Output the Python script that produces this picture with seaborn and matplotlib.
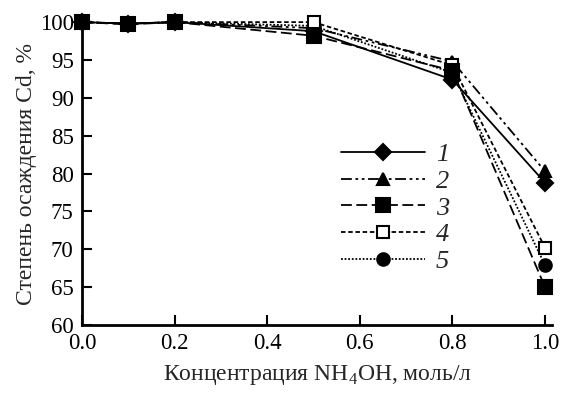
import matplotlib
matplotlib.use("Agg")
import matplotlib.pyplot as plt
import pandas as pd
import seaborn as sns

# concentration NH4OH, mol/l
conc = [0.0, 0.1, 0.2, 0.5, 0.8, 1.0]
# degree of Cd precipitation, %
s1 = [100, 99.8, 100, 98.8, 92.4, 78.8]
s2 = [100, 99.8, 100, 99.2, 94.8, 80.3]
s3 = [100, 99.7, 100, 98.2, 93.6, 65.0]
s4 = [100, 99.8, 100, 100.0, 94.3, 70.2]
s5 = [100, 99.8, 100, 99.5, 93.3, 67.9]
labels = ["1", "2", "3", "4", "5"]

sns.set_style("ticks")
plt.rcParams['font.family'] = ['Liberation Serif', 'DejaVu Serif']
plt.rcParams['mathtext.fontset'] = 'custom'
plt.rcParams['mathtext.rm'] = 'Liberation Serif'

fig = plt.figure(figsize=(5.67, 3.95), dpi=100)
ax = fig.add_axes([0.1446, 0.177, 0.829, 0.767])

styles = [
    dict(linestyle='-', marker='D', mfc='black', ms=8, zorder=3),
    dict(linestyle=(0, (6, 2, 1.5, 2, 1.5, 2)), marker='^', mfc='black', ms=9, zorder=3),
    dict(linestyle=(0, (6, 2.5)), marker='s', mfc='black', ms=10, zorder=5),
    dict(linestyle=(0, (2.5, 1.5)), marker='s', mfc='white', ms=9, zorder=4),
    dict(linestyle=(0, (1, 1)), marker='o', mfc='black', ms=9, zorder=3),
]

for ys, lab, st in zip([s1, s2, s3, s4, s5], labels, styles):
    df = pd.DataFrame({'x': conc, 'y': ys})
    sns.lineplot(data=df, x='x', y='y', ax=ax, color='black', lw=1.3,
                 mec='black', mew=1.5, label=lab, clip_on=False, **st)

ax.set_xlim(0, 1.015)
ax.set_ylim(60, 100)
ax.set_xticks([0.0, 0.2, 0.4, 0.6, 0.8, 1.0])
ax.set_xticklabels(['0.0', '0.2', '0.4', '0.6', '0.8', '1.0'])
ax.set_yticks(range(60, 101, 5))
ax.tick_params(direction='in', length=7, width=1.5, labelsize=16.5,
               colors='black')
ax.tick_params(axis='x', pad=6)
ax.tick_params(axis='y', pad=6)
for side in ['top', 'right']:
    ax.spines[side].set_visible(False)
for side in ['left', 'bottom']:
    ax.spines[side].set_linewidth(2)
    ax.spines[side].set_color('black')

ax.set_xlabel('Концентрация NH$_4$OH, моль/л', fontsize=17, labelpad=6)
ax.set_ylabel('Степень осаждения Cd, %', fontsize=17, labelpad=2)

leg = ax.legend(loc='upper left', bbox_to_anchor=(0.50, 0.68), frameon=False,
                handlelength=3.2, labelspacing=0.12, handletextpad=0.4,
                prop={'style': 'italic', 'size': 19})

fig.savefig('out.png', dpi=100)
